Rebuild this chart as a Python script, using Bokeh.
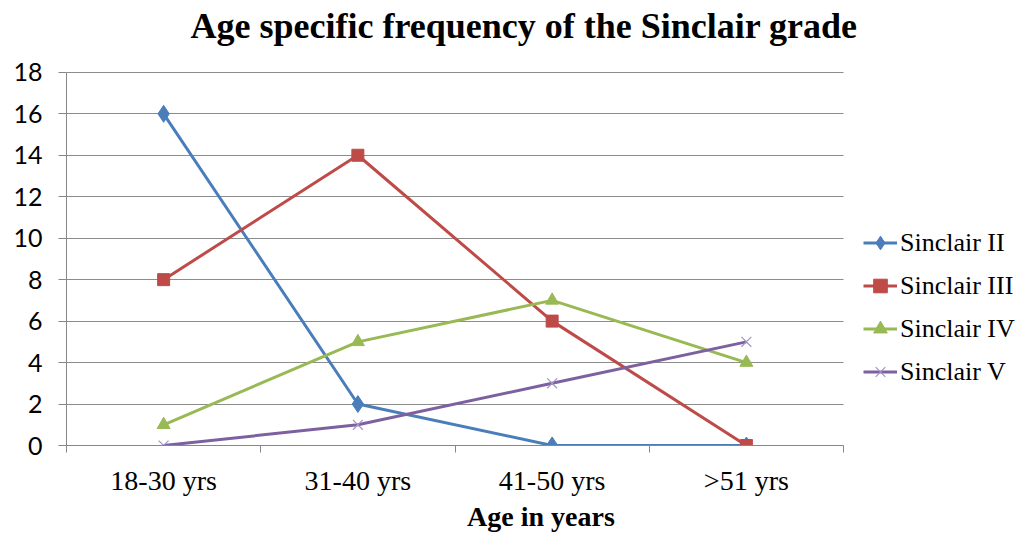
from bokeh.plotting import figure
from bokeh.embed import file_html
from bokeh.resources import INLINE
from bokeh.models import Range1d, FixedTicker, Legend, LegendItem, BoxAnnotation, Label

title_text = "Age specific frequency of  the Sinclair grade"
x_title = "Age in years"
categories = ["18-30 yrs", "31-40 yrs", "41-50 yrs", ">51 yrs"]
sinclair_ii = [16, 2, 0, 0]
sinclair_iii = [8, 14, 6, 0]
sinclair_iv = [1, 5, 7, 4]
sinclair_v = [0, 1, 3, 5]
y_ticks = list(range(0, 19, 2))

xs = list(range(1, len(categories) + 1))
bounds = [i + 0.5 for i in range(0, len(categories) + 1)]

# layout: plotting area 66..843 px / 72..446 px, legend area to the right, title above
W, H = 1015, 534
left_px, plot_right_px = 66, 843
top_px, bottom_px = 72, 446
px_per_cat = (plot_right_px - left_px) / len(categories)
x_start = 0.5
x_data_end = len(categories) + 0.5
x_end = x_data_end + (W - plot_right_px) / px_per_cat
y_max = 18
y_end = y_max * bottom_px / (bottom_px - top_px)

p = figure(width=W, height=H, output_backend="svg", toolbar_location=None,
           title_location=None,
           x_range=Range1d(x_start, x_end), y_range=Range1d(0, y_end),
           min_border_left=left_px, min_border_right=0, min_border_top=0,
           min_border_bottom=H - bottom_px)
p.outline_line_color = None
p.background_fill_color = "white"

# x axis
p.xaxis.bounds = (x_start, x_data_end)
p.xaxis.ticker = FixedTicker(ticks=xs, minor_ticks=bounds)
p.xaxis.major_label_overrides = {x: c for x, c in zip(xs, categories)}
p.xaxis.major_tick_out = 0
p.xaxis.major_tick_in = 0
p.xaxis.minor_tick_out = 7
p.xaxis.minor_tick_in = 0
p.xaxis.minor_tick_line_color = "#878787"
p.xaxis.axis_line_color = "#878787"
p.xaxis.major_label_text_font = "Liberation Serif"
p.xaxis.major_label_text_font_size = "28px"
p.xaxis.major_label_text_color = "black"
p.xaxis.major_label_standoff = 12
p.xaxis.axis_label = x_title
p.xaxis.axis_label_text_font = "Liberation Serif"
p.xaxis.axis_label_text_font_style = "bold"
p.xaxis.axis_label_text_font_size = "28px"
p.xaxis.axis_label_text_color = "black"
p.xaxis.axis_label_standoff = 2

# y axis
p.yaxis.bounds = (0, y_max)
p.yaxis.ticker = FixedTicker(ticks=y_ticks)
p.yaxis.minor_tick_line_color = None
p.yaxis.major_tick_out = 8
p.yaxis.major_tick_in = 0
p.yaxis.major_tick_line_color = "#878787"
p.yaxis.axis_line_color = "#878787"
p.yaxis.major_label_text_font = "Lato"
p.yaxis.major_label_text_font_size = "25px"
p.yaxis.major_label_text_color = "black"
p.yaxis.major_label_standoff = 16

p.xgrid.grid_line_color = None
p.ygrid.grid_line_color = "#8C8C8C"
p.ygrid.grid_line_width = 1

# blank the legend area (no gridlines there)
p.add_layout(BoxAnnotation(left=x_data_end, fill_color="white", fill_alpha=1,
                           line_color=None, level="underlay"))

series = [
    ("Sinclair II", sinclair_ii, "#4A7EBB", "diamond", 17, "#4A7EBB"),
    ("Sinclair III", sinclair_iii, "#BE4B48", "square", 12, "#BE4B48"),
    ("Sinclair IV", sinclair_iv, "#98B954", "triangle", 13, "#98B954"),
    ("Sinclair V", sinclair_v, "#7D60A0", "x", 14, "#A493C6"),
]

items = []
for name, vals, col, marker, size, mcol in series:
    l = p.line(xs, vals, line_color=col, line_width=3)
    if marker == "x":
        s = p.scatter(xs, vals, marker="x", size=size, line_color=mcol, line_width=1.2)
    else:
        s = p.scatter(xs, vals, marker=marker, size=size, fill_color=mcol, line_color=mcol)
    items.append(LegendItem(label=name, renderers=[l, s]))

legend = Legend(items=items, location=(797, 52), margin=0, padding=0,
                glyph_width=34, glyph_height=43, label_height=43, spacing=0,
                label_standoff=3, label_text_font="Liberation Serif",
                label_text_font_size="26px", label_text_color="black",
                border_line_color=None, background_fill_alpha=0)
p.add_layout(legend, "center")

# chart title (frame reaches the top of the canvas; screen units from frame bottom-left)
p.add_layout(Label(x=124, y=bottom_px - 26, x_units="screen", y_units="screen",
                   text=title_text, text_font="Liberation Serif", text_font_style="bold",
                   text_font_size="36px", text_color="black", text_baseline="alphabetic",
                   text_align="left"))

open("out.html", "w").write(file_html(p, INLINE))
